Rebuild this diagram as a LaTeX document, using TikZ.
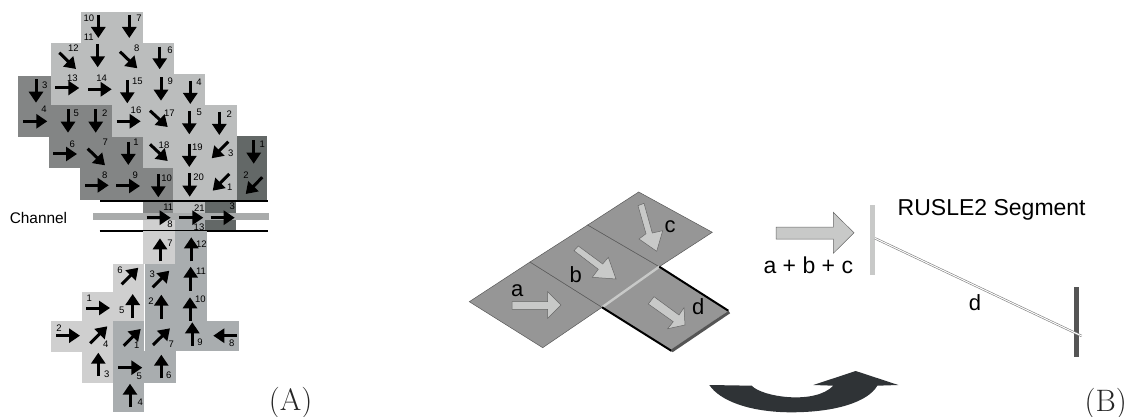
\documentclass[tikz,border=0pt]{standalone}
\usepackage{fontspec}
\setsansfont{Liberation Sans}
\usetikzlibrary{arrows.meta}
\definecolor{TopLight}{HTML}{BBBDBD}
\definecolor{TopDark}{HTML}{838585}
\definecolor{TopDarkest}{HTML}{636867}
\definecolor{LowLight}{HTML}{CFCFCF}
\definecolor{LowMid}{HTML}{A9ADAF}
\definecolor{Band}{HTML}{A9ABAB}
\definecolor{Sheet}{HTML}{969696}
\definecolor{Block}{HTML}{C8C9C8}
\definecolor{Edge}{HTML}{555555}
\definecolor{Swoosh}{HTML}{2F3336}
\tikzset{
    flow/.style={-{Triangle[length=11pt,width=14pt]}, line width=3pt, color=black},
    num/.style={font=\sffamily\fontsize{9.5}{10}\selectfont, text=black, inner sep=0pt},
    sans/.style={font=\sffamily\fontsize{#1}{#1}\selectfont, text=black, inner sep=0pt},
    panel/.style={font=\fontsize{31}{32}\selectfont, text=black!85, inner sep=0pt},
    blockarrow/.style={draw=black!60, fill=Block, line width=0.5pt, line join=miter},
    sheet/.style={fill=Sheet, draw=black!65, line width=0.5pt},
}
\begin{document}
\begin{tikzpicture}[x=1pt, y=-1pt]
    \useasboundingbox (0,0) rectangle (1133,417);

    % Upper field cells
    \fill[TopLight] (80.7,12) rectangle (143.3,43);
    \fill[TopLight] (50.7,43) rectangle (174,74);
    \fill[TopLight] (50.7,74) rectangle (205,105);
    \fill[TopLight] (112,105) rectangle (236.7,137);
    \fill[TopLight] (143,137) rectangle (236.7,168);
    \fill[TopLight] (173,168) rectangle (236.7,200);
    \fill[TopDark] (18,76) rectangle (50.7,105);
    \fill[TopDark] (18,105) rectangle (112,137);
    \fill[TopDark] (49,137) rectangle (143,168);
    \fill[TopDark] (80,168) rectangle (173,200);
    \fill[TopDarkest] (236.7,136) rectangle (267,168);
    \fill[TopDarkest] (236.7,168) rectangle (267,200);

    % Channel cells
    \fill[TopDark] (143,200) rectangle (173,214);
    \fill[TopLight] (173,200) rectangle (205,214);
    \fill[TopDarkest] (205,200) rectangle (236,214);
    \fill[LowLight] (143,214) rectangle (175,231);
    \fill[LowMid] (175,214) rectangle (205,231);
    \fill[TopDarkest] (205,214) rectangle (236,231);
    \fill[Band] (92.7,213) rectangle (268.7,220);
    \draw[line width=1.6pt, black] (100,200.7) -- (268,200.7);
    \draw[line width=1.6pt, black] (99.5,230.7) -- (267.5,230.7);
    \node[sans=15.4] (channel) at (38.5,218) {Channel};

    % Lower field cells
    \fill[LowLight] (143.3,231) rectangle (175.2,264);
    \fill[LowLight] (112.7,264) rectangle (144.2,292);
    \fill[LowLight] (81.7,292) rectangle (144.2,321);
    \fill[LowLight] (50.7,321) rectangle (112.7,351.7);
    \fill[LowLight] (81.7,351.7) rectangle (112.7,383);
    \fill[LowMid] (175.2,231) rectangle (207,264);
    \fill[LowMid] (144.5,264) rectangle (207,321);
    \fill[LowMid] (112.7,321) rectangle (144.3,351.7);
    \fill[LowMid] (144.6,321) rectangle (238.7,351);
    \fill[LowMid] (112.7,351) rectangle (175.7,383);
    \fill[LowMid] (112.7,383) rectangle (144.3,411.7);

    % Upper field flow
    \draw[flow] (98.3,15) -- (98.3,38);
    \node[num] (u10) at (89,18) {10};
    \node[num] (u11) at (88.7,37) {11};
    \draw[flow] (129.3,15) -- (129.3,38);
    \node[num] (u7) at (139,18.7) {7};
    \draw[flow] (59.3,52.7) -- (76,69);
    \node[num] (u12) at (73.3,47.7) {12};
    \draw[flow] (97.7,44) -- (97.7,67.3);
    \draw[flow] (120,51.7) -- (137.3,68.3);
    \node[num] (u8) at (136.7,48.7) {8};
    \draw[flow] (159.7,46.7) -- (159.7,69.3);
    \node[num] (u6) at (170,50) {6};
    \draw[flow] (36,79.3) -- (36,102.7);
    \node[num] (u3) at (44.7,85) {3};
    \draw[flow] (55,88) -- (79.3,88);
    \node[num] (u13) at (72.3,78.7) {13};
    \draw[flow] (88,89.3) -- (111.7,89.3);
    \node[num] (u14) at (101.7,78.3) {14};
    \draw[flow] (127.3,80) -- (127.3,103.3);
    \node[num] (u15) at (137.3,81) {15};
    \draw[flow] (161,77.3) -- (161,100.7);
    \node[num] (u9) at (170.3,81.7) {9};
    \draw[flow] (190.3,80.7) -- (190.3,104);
    \node[num] (u4) at (199,82.7) {4};
    \draw[flow] (23.3,121.3) -- (47.3,121.3);
    \node[num] (v4) at (44,109.3) {4};
    \draw[flow] (68,109.3) -- (68,132.7);
    \node[num] (v5) at (76.3,113.3) {5};
    \draw[flow] (95.7,109.3) -- (95.7,132.7);
    \node[num] (v2) at (104.7,112.7) {2};
    \draw[flow] (116.7,121.3) -- (140.7,121.3);
    \node[num] (u16) at (136,110.7) {16};
    \draw[flow] (150,110.7) -- (167.7,127);
    \node[num] (u17) at (169.3,113.3) {17};
    \draw[flow] (189.3,111) -- (189.3,134.3);
    \node[num] (w5) at (199.3,112.3) {5};
    \draw[flow] (219.3,111.7) -- (219.3,135);
    \node[num] (w2) at (229.3,114.3) {2};
    \draw[flow] (53.3,154) -- (77,154);
    \node[num] (v6) at (72.3,144) {6};
    \draw[flow] (87.7,148.7) -- (105,165.3);
    \node[num] (v7) at (105.3,142.3) {7};
    \draw[flow] (128.3,141.7) -- (128.3,165);
    \node[num] (v1) at (136,142.7) {1};
    \draw[flow] (150,144.3) -- (167.7,161);
    \node[num] (u18) at (164,145.7) {18};
    \draw[flow] (189.3,143.7) -- (189.3,167);
    \node[num] (u19) at (197.3,147.7) {19};
    \draw[flow] (228.3,141.7) -- (211.7,158.3);
    \node[num] (w3) at (230.7,153.3) {3};
    \draw[flow] (253.7,140.3) -- (253.7,163.7);
    \node[num] (x1) at (262.3,144.7) {1};
    \draw[flow] (85,185.3) -- (108.7,185.3);
    \node[num] (v8) at (104.7,175.7) {8};
    \draw[flow] (116.3,186) -- (140,186);
    \node[num] (v9) at (135.3,175.7) {9};
    \draw[flow] (158.3,174) -- (158.3,197.3);
    \node[num] (v10) at (166.7,178.3) {10};
    \draw[flow] (189.7,173.3) -- (189.7,196.7);
    \node[num] (u20) at (198.7,177.3) {20};
    \draw[flow] (229.3,174) -- (212.7,190.7);
    \node[num] (w1) at (229.7,187.7) {1};
    \draw[flow] (262.3,177.3) -- (245.7,194);
    \node[num] (x2) at (246,175) {2};

    % Channel flow
    \draw[flow] (146.7,217.7) -- (170.7,217.7);
    \node[num] (v11) at (168.3,207.3) {11};
    \node[num] (c8) at (170,224) {8};
    \draw[flow] (179.3,217.7) -- (203.3,217.7);
    \node[num] (u21) at (199.3,208.3) {21};
    \node[num] (c13) at (199,227.3) {13};
    \draw[flow] (210.7,217.7) -- (234.7,217.7);
    \node[num] (x3) at (232.3,206) {3};

    % Lower field flow
    \draw[flow] (160,261.3) -- (160,238.3);
    \node[num] (l7) at (170,243.3) {7};
    \draw[flow] (191.3,261.3) -- (191.3,237.3);
    \node[num] (m12) at (201.3,243.7) {12};
    \draw[flow] (121.7,284.3) -- (138.3,267.7);
    \node[num] (l6) at (120,270) {6};
    \draw[flow] (152.7,287.3) -- (169.3,270.7);
    \node[num] (m3) at (152.3,274) {3};
    \draw[flow] (190.7,290.7) -- (190.7,266.7);
    \node[num] (m11) at (201,271.3) {11};
    \draw[flow] (86,308) -- (110,308);
    \node[num] (l1) at (89.3,298.3) {1};
    \draw[flow] (132.7,318) -- (132.7,294);
    \node[num] (l5) at (121.7,310) {5};
    \draw[flow] (161.3,318.7) -- (161.3,294.7);
    \node[num] (m2) at (151,301.3) {2};
    \draw[flow] (190,320.7) -- (190,297.3);
    \node[num] (m10) at (200.3,299.7) {10};
    \draw[flow] (56,335.7) -- (80,335.7);
    \node[num] (l2) at (59,328.3) {2};
    \draw[flow] (90.3,343.3) -- (107.3,326.3);
    \node[num] (l4) at (105.7,344.7) {4};
    \draw[flow] (123.7,345.7) -- (140.7,329);
    \node[num] (m1) at (136.7,345.3) {1};
    \draw[flow] (153,345) -- (170,328.3);
    \node[num] (m7) at (171.3,344.3) {7};
    \draw[flow] (192.3,345.7) -- (192.3,322.3);
    \node[num] (m9) at (200,342.7) {9};
    \draw[flow] (236.7,335.7) -- (213.3,335.7);
    \node[num] (m8) at (231.7,343.7) {8};
    \draw[flow] (98.3,376) -- (98.3,352.7);
    \node[num] (l3) at (106.7,374.7) {3};
    \draw[flow] (118.3,367.7) -- (142.3,367.7);
    \node[num] (m5) at (139.3,376.7) {5};
    \draw[flow] (161.3,378.3) -- (161.3,354.7);
    \node[num] (m6) at (168.7,375) {6};
    \draw[flow] (130,407) -- (130,383.7);
    \node[num] (m4) at (140.3,402.7) {4};

    \node[panel] (labelA) at (290.7,403) {(A)};

    % Sheets a, b, c and the concentrated strip d
    \draw[sheet] (469.3,301.7) -- (530,262) -- (602,307.3) -- (542.7,347.7) -- cycle;
    \draw[sheet] (530,262) -- (587.7,225) -- (659.3,266.7) -- (602,307.3) -- cycle;
    \draw[sheet] (587.7,225) -- (638.7,192) -- (712.3,232.3) -- (659.3,266.7) -- cycle;
    \fill[Sheet] (659.3,266.7) -- (728.3,310.7) -- (671.7,350) -- (602,307.3) -- cycle;
    \draw[line width=2.4pt, Block] (602,307.3) -- (659.3,266.7);
    \draw[line width=2pt, black] (602,307.3) -- (671.7,351);
    \draw[line width=2pt, black] (659.3,266.7) -- (728.3,310.7);
    \draw[line width=3pt, Edge] (671.7,351) -- (729.3,312);

    % Flow over the sheets
    \draw[blockarrow] (512,301.7) -- (547.7,301.7) -- (547.7,291.7) -- (561,305) -- (547.7,318.3) -- (547.7,309.3) -- (512,309.3) -- cycle;
    \draw[blockarrow] (574,250.7) -- (578.3,246) -- (602.7,264) -- (608.3,257.3) -- (616,279) -- (592.3,277.3) -- (598.3,269.3) -- cycle;
    \draw[blockarrow] (638,205.7) -- (644,203.3) -- (652.3,233) -- (662.7,230.7) -- (656.7,251.3) -- (639,239) -- (646,233.7) -- cycle;
    \draw[blockarrow] (648.3,304) -- (654,296.7) -- (679,315) -- (684,307.7) -- (685,325) -- (667.7,328.7) -- (673.3,321.7) -- cycle;
    \node[sans=22] (a) at (517.3,291) {a};
    \node[sans=22] (b) at (575.7,275) {b};
    \node[sans=22] (c) at (670,226.7) {c};
    \node[sans=22] (d) at (698.3,306.7) {d};

    % RUSLE2 profile
    \draw[blockarrow] (776,227) -- (833.3,227) -- (833.3,212.3) -- (854,232.8) -- (833.3,253.3) -- (833.3,239) -- (776,239) -- cycle;
    \node[sans=23] (sumlabel) at (808.3,265) {a + b + c};
    \node[sans=23] (title) at (991.7,210) {RUSLE2 Segment};
    \draw[line width=5pt, Block] (872.7,205) -- (872.7,275);
    \draw[line width=5pt, Edge] (1076,287.3) -- (1076,356.7);
    \draw[black!50, double=white, line width=0.6pt, double distance=1pt] (875,238.3) -- (1081.7,336);
    \node[sans=22] (dprofile) at (975,303) {d};

    % Turning arrow
    \fill[Swoosh] (709.3,385) -- (751.7,385.7)
        .. controls (762,397) and (815,405) .. (833.3,385.7)
        -- (813.3,385) -- (855.7,371) -- (898.3,385) -- (877.3,385.7)
        .. controls (868,402) and (835,412.5) .. (790,412.3)
        .. controls (750,412) and (720,401) .. (709.3,385) -- cycle;

    \node[panel] (labelB) at (1105.7,404) {(B)};
\end{tikzpicture}
\end{document}
